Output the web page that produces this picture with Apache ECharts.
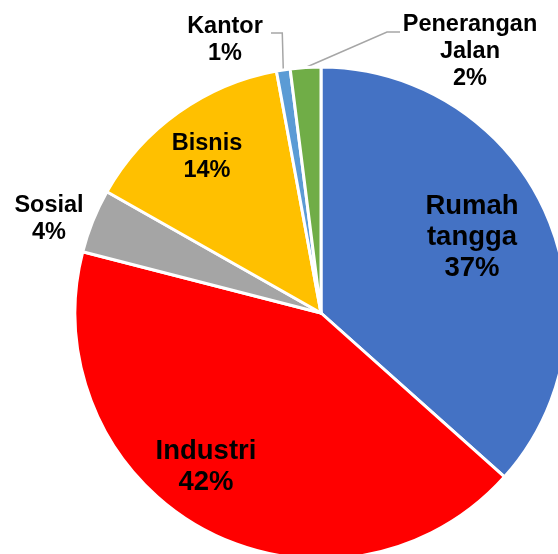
<!DOCTYPE html>
<html>
<head>
<meta charset="utf-8">
<script src="https://cdn.jsdelivr.net/npm/echarts@6/dist/echarts.min.js"></script>
<style>
  html, body { margin: 0; padding: 0; background: #ffffff; }
  #chart { width: 558px; height: 554px; }
</style>
</head>
<body>
<div id="chart"></div>
<script>
// Data
var categories = ['Rumah tangga', 'Industri', 'Sosial', 'Bisnis', 'Kantor', 'Penerangan Jalan'];
var values = [36.6, 42.4, 4.2, 13.9, 0.9, 2.0];
var colors = ['#4472C4', '#FF0000', '#A5A5A5', '#FFC000', '#5B9BD5', '#70AD47'];

// Label placement (text block centres) and style groups
var labelPos = [[472, 237], [206, 467], [49, 219], [207, 157], [225, 40], [470, 52]];
var outside = [false, false, true, false, true, true];
var withLine = [false, false, false, false, true, true];
var big = [true, true, false, false, false, false];

var chart = echarts.init(document.getElementById('chart'), null, { renderer: 'canvas' });

var data = categories.map(function (name, i) {
  return {
    name: name,
    value: values[i],
    itemStyle: { color: colors[i] },
    label: {
      position: outside[i] ? 'outside' : 'inside',
      fontSize: big[i] ? 27.5 : 23.5,
      lineHeight: big[i] ? 31 : 27
    },
    labelLine: { show: withLine[i] }
  };
});

chart.setOption({
  animation: false,
  backgroundColor: '#ffffff',
  series: [{
    type: 'pie',
    center: [321, 313],
    radius: [0, 246],
    startAngle: 90,
    clockwise: true,
    avoidLabelOverlap: false,
    itemStyle: { borderColor: '#ffffff', borderWidth: 3 },
    emphasis: { disabled: true },
    label: {
      show: true,
      color: '#000000',
      fontFamily: 'Liberation Sans, Arial, sans-serif',
      fontWeight: 'bold',
      align: 'center',
      formatter: function (p) {
        return p.name.replace(' ', '\n') + '\n' + Math.round(p.percent) + '%';
      }
    },
    labelLine: {
      length: 20,
      length2: 10,
      smooth: false,
      lineStyle: { color: '#A6A6A6', width: 1.5 }
    },
    labelLayout: function (params) {
      var i = params.dataIndex;
      var pos = labelPos[i];
      var out = { x: pos[0], y: pos[1], align: 'center', verticalAlign: 'middle' };
      if (withLine[i] && params.labelLinePoints) {
        var edge = params.labelLinePoints[0];
        if (i === 4) {
          out.labelLinePoints = [[edge[0], edge[1]], [edge[0] - 1, pos[1] - 7], [pos[0] + 46, pos[1] - 7]];
        } else {
          out.labelLinePoints = [[edge[0], edge[1]], [pos[0] - 83, pos[1] - 20], [pos[0] - 70, pos[1] - 20]];
        }
      }
      return out;
    },
    data: data
  }]
});
</script>
</body>
</html>
